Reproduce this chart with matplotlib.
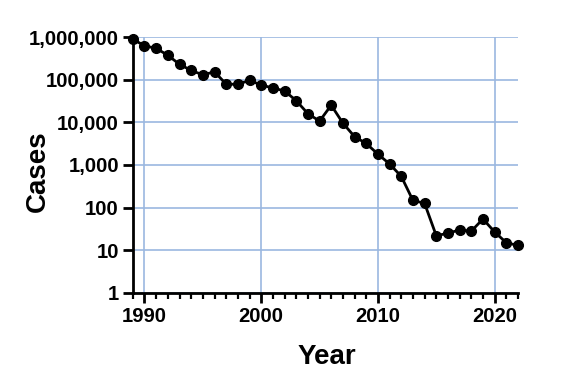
import matplotlib
matplotlib.use("Agg")
import matplotlib.pyplot as plt
from matplotlib.ticker import FixedLocator, FuncFormatter, MultipleLocator

years = list(range(1989, 2023))
cases = [892055, 623844, 543585, 374202, 229773, 164973, 129852, 152814,
         78557, 78104, 96293, 75223, 63717, 54638, 32193, 16026, 10674,
         25217, 9585, 4619, 3190, 1797, 1058, 542, 148, 126, 22, 25, 30,
         28, 54, 27, 15, 13]
y_ticks = [1, 10, 100, 1000, 10000, 100000, 1000000]
x_ticks = [1990, 2000, 2010, 2020]

plt.rcParams['font.family'] = ['Liberation Sans', 'DejaVu Sans']
plt.rcParams['font.weight'] = 'bold'

fig = plt.figure(figsize=(5.8, 3.9), dpi=100)
ax = fig.add_axes([0.229, 0.249, 0.664, 0.656])

ax.plot(years, cases, color='black', lw=2, marker='o', ms=7, zorder=3, clip_on=False)

ax.set_yscale('log')
ax.set_ylim(1, 1000000)
ax.set_xlim(1989, 2022)
ax.yaxis.set_major_locator(FixedLocator(y_ticks))
ax.yaxis.set_minor_locator(FixedLocator([]))
ax.yaxis.set_major_formatter(FuncFormatter(lambda v, p: f"{int(round(v)):,}"))
ax.xaxis.set_major_locator(FixedLocator(x_ticks))
ax.xaxis.set_minor_locator(MultipleLocator(1))

ax.grid(True, which='major', color='#9bb8e0', lw=1.2, zorder=0)
for s in ['top', 'right']:
    ax.spines[s].set_visible(False)
for s in ['left', 'bottom']:
    ax.spines[s].set_linewidth(2)

ax.tick_params(axis='both', which='major', width=2, length=7, labelsize=14.6, pad=3)
ax.tick_params(axis='x', which='minor', width=1.6, length=4)
for lab in ax.get_xticklabels() + ax.get_yticklabels():
    lab.set_fontweight('bold')

ax.set_xlabel('Year', fontsize=20, fontweight='bold')
ax.set_ylabel('Cases', fontsize=20, fontweight='bold')
ax.xaxis.set_label_coords(0.504, -0.2)
ax.yaxis.set_label_coords(-0.212, 0.477)

fig.savefig('out.png', dpi=100)
